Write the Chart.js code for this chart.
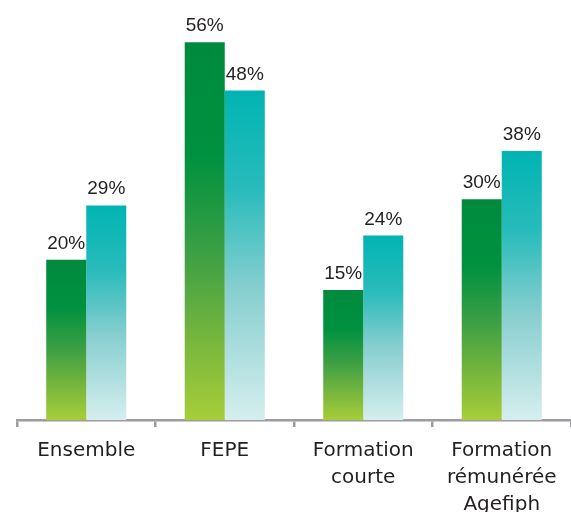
<!DOCTYPE html>
<html>
<head>
<meta charset="utf-8">
<script src="https://cdn.jsdelivr.net/npm/chart.js@4/dist/chart.umd.min.js"></script>
<style>
  html, body { margin: 0; padding: 0; background: #fff; }
  #wrap { width: 571px; height: 512px; }
</style>
</head>
<body>
<div id="wrap"><canvas id="chart"></canvas></div>
<script>
const categories = [
    ["Ensemble"],
    ["FEPE"],
    ["Formation", "courte"],
    ["Formation", "rémunérée", "Agefiph"]
];
const greenValues = [20, 56, 15, 30];
const tealValues = [29, 48, 24, 38];

// bars start below zero in the original, so the value axis is shifted
const yMin = -6.5;
const yMax = 60;

function barGradient(stops) {
    return function(context) {
        const chart = context.chart;
        if (!chart.chartArea || context.raw === undefined) return stops[0][1];
        const y = chart.scales.y;
        const top = y.getPixelForValue(context.raw);
        const bottom = y.getPixelForValue(yMin);
        const g = chart.ctx.createLinearGradient(0, top, 0, bottom);
        stops.forEach(s => g.addColorStop(s[0], s[1]));
        return g;
    };
}

const greenStops = [[0, '#008a3e'], [0.3, '#009140'], [0.55, '#3a9f44'], [0.8, '#7ab73d'], [1, '#a6ce39']];
const tealStops = [[0, '#00b4b3'], [0.3, '#29bbbb'], [0.6, '#86cecf'], [1, '#d6eeee']];

// percent labels above the bars
const valueLabels = {
    id: 'valueLabels',
    afterDatasetsDraw(chart) {
        const ctx = chart.ctx;
        ctx.save();
        ctx.font = '19px "Liberation Sans", Arial, sans-serif';
        ctx.fillStyle = '#231f20';
        ctx.textAlign = 'center';
        ctx.textBaseline = 'alphabetic';
        chart.data.datasets.forEach((ds, i) => {
            chart.getDatasetMeta(i).data.forEach((bar, j) => {
                ctx.fillText(ds.data[j] + '%', bar.x, bar.y - 11);
            });
        });
        ctx.restore();
    }
};

new Chart(document.getElementById('chart'), {
    type: 'bar',
    data: {
        labels: categories,
        datasets: [{
            data: greenValues,
            base: yMin,
            backgroundColor: barGradient(greenStops),
            borderWidth: 0
        }, {
            data: tealValues,
            base: yMin,
            backgroundColor: barGradient(tealStops),
            borderWidth: 0
        }]
    },
    options: {
        responsive: true,
        maintainAspectRatio: false,
        animation: false,
        layout: { padding: { top: 18, left: 17, right: 0, bottom: 0 } },
        categoryPercentage: 0.578,
        barPercentage: 1,
        plugins: {
            legend: { display: false },
            tooltip: { enabled: false }
        },
        scales: {
            x: {
                offset: true,
                grid: {
                    offset: true,
                    drawOnChartArea: false,
                    drawTicks: true,
                    tickLength: 7,
                    color: '#9c9ca0',
                    lineWidth: 2.5
                },
                border: { color: '#9c9ca0', width: 2.5 },
                ticks: {
                    color: '#231f20',
                    font: { family: '"DejaVu Sans", sans-serif', size: 20, lineHeight: 1.35 },
                    padding: 10,
                    maxRotation: 0,
                    autoSkip: false
                },
                afterFit: scale => { scale.height = 92; }
            },
            y: {
                display: false,
                min: yMin,
                max: yMax
            }
        }
    },
    plugins: [valueLabels]
});
</script>
</body>
</html>
